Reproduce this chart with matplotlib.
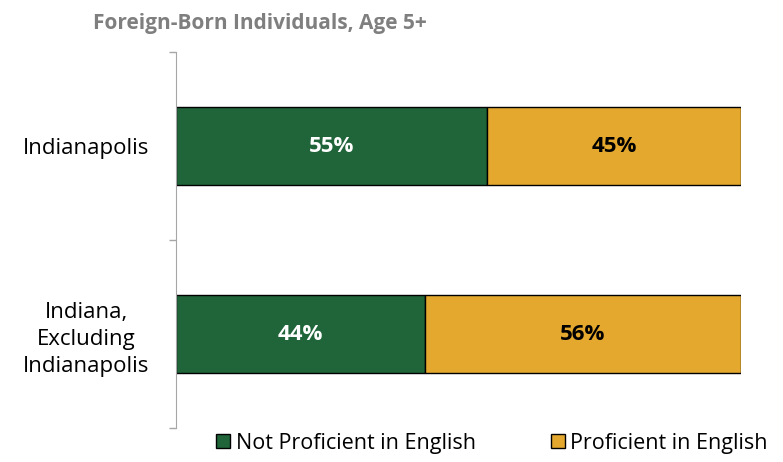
import numpy as np
import matplotlib.pyplot as plt
from matplotlib.patches import Patch

plt.rcParams['font.family'] = ['Open Sans', 'DejaVu Sans']

places = ['Indianapolis', 'Indiana,\nExcluding\nIndianapolis']
not_prof = [55, 44]
prof = [45, 56]
series_names = ['Not Proficient in English', 'Proficient in English']

green = '#20643A'
gold = '#E3A82D'

fig = plt.figure(figsize=(7.83, 4.62), dpi=100)
ax = fig.add_axes([176 / 783, 1 - 428 / 462, 565 / 783, 376 / 462])

y = np.arange(len(places))
ax.barh(y, not_prof, height=0.41, color=green, edgecolor='black', lw=1)
ax.barh(y, prof, left=not_prof, height=0.41, color=gold, edgecolor='black', lw=1)

for i in range(len(places)):
    ax.text(not_prof[i] / 2, y[i], f'{not_prof[i]}%', ha='center', va='center',
            color='white', fontsize=16, fontweight='bold')
    ax.text(not_prof[i] + prof[i] / 2, y[i], f'{prof[i]}%', ha='center', va='center',
            color='black', fontsize=16, fontweight='bold')

ax.set_xlim(0, 100)
ax.set_ylim(1.5, -0.5)
ax.set_xticks([])
ax.set_yticks(y)
ax.set_yticklabels(places, fontsize=16, multialignment='center', linespacing=1.38)
ax.set_yticks([-0.5, 0.5, 1.5], minor=True)
ax.tick_params(axis='y', which='major', length=0, pad=19)
ax.tick_params(axis='y', which='minor', length=5, color='#A6A6A6', width=1)
for s in ['top', 'right', 'bottom']:
    ax.spines[s].set_visible(False)
ax.spines['left'].set_color('#A6A6A6')

fig.text(93 / 783, 1 - 23 / 462, 'Foreign-Born Individuals, Age 5+', fontsize=15,
         fontweight='bold', color='#7F7F7F', va='center', ha='left')

handles = [Patch(facecolor=green, edgecolor='black'), Patch(facecolor=gold, edgecolor='black')]
fig.legend(handles, series_names, loc='center', bbox_to_anchor=(492 / 783, 1 - 443 / 462),
           ncol=2, frameon=False, fontsize=15.5, handlelength=0.65, handleheight=0.65,
           handletextpad=0.25, columnspacing=3.5)

fig.savefig('out.png', dpi=100)
